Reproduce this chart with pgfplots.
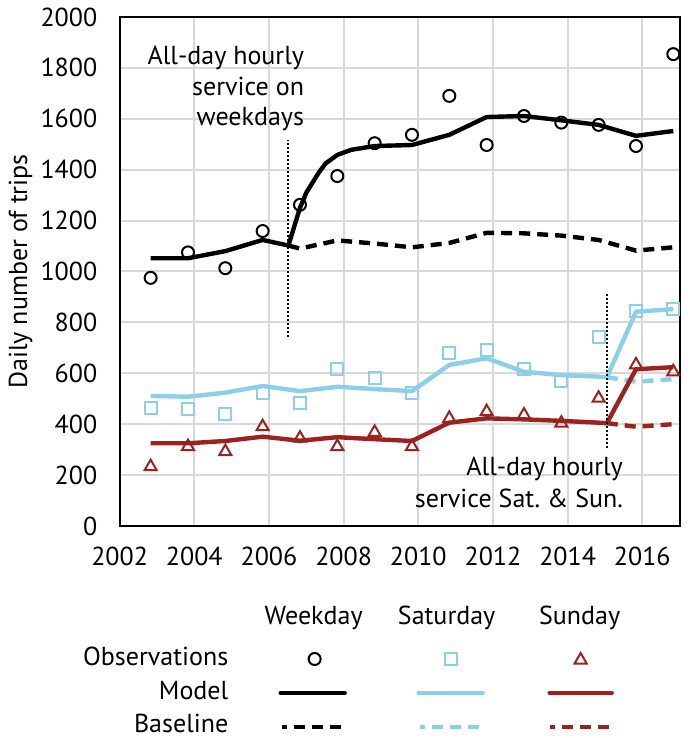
\documentclass[border=0pt]{standalone}
\usepackage{fontspec}
\setmainfont{PT Sans}
\usepackage{pgfplots}
\usepackage{pgfplotstable}
\pgfplotsset{compat=1.18}
\definecolor{satblue}{RGB}{141,206,232}
\definecolor{sunred}{RGB}{155,34,30}
\definecolor{gridgray}{RGB}{217,217,217}
\newcommand{\fs}{\fontsize{13}{15.5}\selectfont}
\frenchspacing

\pgfplotstableread{
x y
2002.83 975
2003.83 1075
2004.83 1013
2005.83 1159
2006.83 1262
2007.83 1375
2008.83 1504
2009.83 1537
2010.83 1690
2011.83 1497
2012.83 1611
2013.83 1585
2014.83 1576
2015.83 1493
2016.83 1854
}\wdobs
\pgfplotstableread{
x y
2002.83 1052
2003.83 1052
2004.83 1080
2005.83 1124
2006.52 1102
2006.83 1250
2007.00 1310
2007.34 1390
2007.52 1425
2007.83 1458
2008.20 1478
2008.83 1493
2009.83 1497
2010.83 1537
2011.83 1607
2012.83 1611
2013.83 1594
2014.83 1576
2015.83 1533
2016.83 1552
}\wdmodel
\pgfplotstableread{
x y
2006.52 1102
2006.83 1090
2007.83 1122
2008.83 1110
2009.83 1095
2010.83 1112
2011.83 1152
2012.83 1150
2013.83 1141
2014.83 1124
2015.83 1082
2016.83 1095
}\wdbase
\pgfplotstableread{
x y
2002.83 465
2003.83 460
2004.83 439
2005.83 521
2006.83 482
2007.83 616
2008.83 583
2009.83 521
2010.83 681
2011.83 692
2012.83 616
2013.83 571
2014.83 744
2015.83 846
2016.83 852
}\satobs
\pgfplotstableread{
x y
2002.83 511
2003.83 508
2004.83 524
2005.83 550
2006.83 530
2007.83 547
2008.83 538
2009.83 530
2010.83 633
2011.83 659
2012.83 606
2013.83 593
2014.83 587
2015.05 584
2015.83 842
2016.83 852
}\satmodel
\pgfplotstableread{
x y
2015.05 584
2015.83 567
2016.83 577
}\satbase
\pgfplotstableread{
x y
2002.83 233
2003.83 312
2004.83 292
2005.83 390
2006.83 345
2007.83 312
2008.83 368
2009.83 312
2010.83 423
2011.83 449
2012.83 436
2013.83 404
2014.83 502
2015.83 633
2016.83 606
}\sunobs
\pgfplotstableread{
x y
2002.83 325
2003.83 325
2004.83 334
2005.83 351
2006.83 335
2007.83 349
2008.83 341
2009.83 334
2010.83 406
2011.83 423
2012.83 419
2013.83 413
2014.83 406
2015.05 404
2015.83 616
2016.83 624
}\sunmodel
\pgfplotstableread{
x y
2015.05 404
2015.83 390
2016.83 400
}\sunbase

\begin{document}
\fs
\begin{tikzpicture}[font=\fs]
% overlay axis in pixel units (legend and page frame)
\begin{axis}[
  at={(0pt,0pt)}, anchor=south west,
  scale only axis, width=342.5pt, height=369pt,
  xmin=0, xmax=685, ymin=0, ymax=738, y dir=reverse,
  hide axis, clip=false]
  \path (axis cs:0,0) rectangle (axis cs:685,738);
  \node[anchor=base] at (axis cs:308,624) {Weekday};
  \node[anchor=base] at (axis cs:441,624) {Saturday};
  \node[anchor=base] at (axis cs:574,624) {Sunday};
  \node[anchor=base east, inner sep=0pt] at (axis cs:223,665) {Observations};
  \node[anchor=base east, inner sep=0pt] at (axis cs:223,699) {Model};
  \node[anchor=base east, inner sep=0pt] at (axis cs:223,732) {Baseline};
  \addplot[only marks, mark=o, mark size=3pt, mark options={black, line width=1pt}] coordinates {(309,659)};
  \addplot[only marks, mark=square, mark size=3pt, mark options={satblue, line width=1pt}] coordinates {(445,659)};
  \addplot[only marks, mark=triangle, mark size=3.5pt, mark options={sunred, line width=1pt}] coordinates {(575,660)};
  \addplot[black, line width=2.2pt, line cap=round] coordinates {(275,693) (339,693)};
  \addplot[satblue, line width=2.2pt, line cap=round] coordinates {(413,693) (477,693)};
  \addplot[sunred, line width=2.2pt, line cap=round] coordinates {(544,693) (606,693)};
  \addplot[black, line width=2.2pt, dash pattern=on 5.5pt off 3.5pt, dash phase=3pt] coordinates {(276,727) (338,727)};
  \addplot[satblue, line width=2.2pt, dash pattern=on 5.5pt off 3.5pt, dash phase=3pt] coordinates {(414,727) (476,727)};
  \addplot[sunred, line width=2.2pt, dash pattern=on 5.5pt off 3.5pt, dash phase=3pt] coordinates {(544,727) (606,727)};
\end{axis}

\begin{axis}[
  at={(57pt,106pt)}, anchor=south west,
  scale only axis, width=280pt, height=254.5pt,
  xmin=2002, xmax=2017, ymin=0, ymax=2000,
  xtick={2002,2004,...,2016}, ytick={0,200,...,2000},
  grid=major, major grid style={gridgray, line width=1pt},
  axis line style={line width=1pt},
  major tick length=0pt,
  tick label style={font=\fs},
  xticklabel style={inner sep=1pt, yshift=-9.5pt},
  yticklabel style={inner sep=1pt, xshift=-10pt},
  /pgf/number format/assume math mode=true,
  /pgf/number format/1000 sep={},
  every axis y label/.style={at={(axis description cs:-0.177,0.5)}, rotate=90, anchor=center, font=\fs},
  ylabel={Daily number of trips},
  clip=false]
  \addplot[black, line width=2.2pt, line join=round] table[x=x,y=y]{\wdmodel};
  \addplot[black, line width=2.2pt, dash pattern=on 5.5pt off 3.5pt] table[x=x,y=y]{\wdbase};
  \addplot[only marks, mark=o, mark size=3pt, mark options={black, line width=1pt}] table[x=x,y=y]{\wdobs};
  \addplot[satblue, line width=2.2pt, line join=round] table[x=x,y=y]{\satmodel};
  \addplot[satblue, line width=2.2pt, dash pattern=on 5.5pt off 3.5pt] table[x=x,y=y]{\satbase};
  \addplot[only marks, mark=square, mark size=3pt, mark options={satblue, line width=1pt}] table[x=x,y=y]{\satobs};
  \addplot[sunred, line width=2.2pt, line join=round] table[x=x,y=y]{\sunmodel};
  \addplot[sunred, line width=2.2pt, dash pattern=on 5.5pt off 3.5pt] table[x=x,y=y]{\sunbase};
  \addplot[only marks, mark=triangle, mark size=3.5pt, mark options={sunred, line width=1pt}] table[x=x,y=y]{\sunobs};
  \addplot[black, line width=1pt, dash pattern=on 1pt off 1pt] coordinates {(2006.5,744) (2006.5,1517)};
  \addplot[black, line width=1pt, dash pattern=on 1pt off 1pt] coordinates {(2015.05,305) (2015.05,917)};
  \node[anchor=base east, inner sep=0pt] at (axis cs:2006.95,1812) {All-day hourly};
  \node[anchor=base east, inner sep=0pt] at (axis cs:2006.95,1690) {service on};
  \node[anchor=base east, inner sep=0pt] at (axis cs:2006.95,1572) {weekdays};
  \node[anchor=base east, inner sep=0pt] at (axis cs:2015.49,200) {All-day hourly};
  \node[anchor=base east, inner sep=0pt] at (axis cs:2015.49,73) {service Sat. \& Sun.};
\end{axis}
\end{tikzpicture}
\end{document}
